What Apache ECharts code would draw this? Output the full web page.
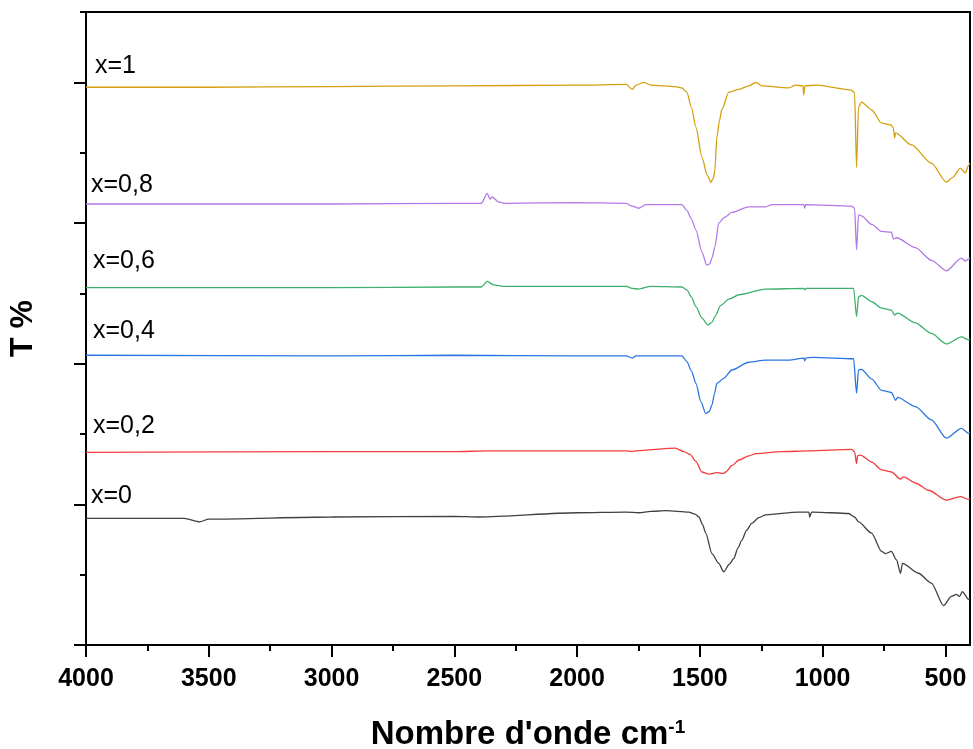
<!DOCTYPE html>
<html>
<head>
<meta charset="utf-8">
<title>Spectres IR</title>
<script src="https://cdn.jsdelivr.net/npm/echarts@6/dist/echarts.min.js"></script>
<style>
  html, body { margin: 0; padding: 0; background: #fff; }
  #chart { width: 973px; height: 749px; }
</style>
</head>
<body>
<div id="chart"></div>
<script>
// axes
var majorTicks = [4000, 3500, 3000, 2500, 2000, 1500, 1000, 500];
var minorTicks = [3750, 3250, 2750, 2250, 1750, 1250, 750];
var yMajorTicks = [0, 20, 40, 60, 80];

var sampleNames = ['x=0', 'x=0,2', 'x=0,4', 'x=0,6', 'x=0,8', 'x=1'];
var lineColors = ['#404040', '#f03c3c', '#2a74e2', '#3cb06c', '#b27ae6', '#d4a010'];

// [nombre d'onde, T (unités décalées)]
var specX0 = [[4000, 18.0], [3600, 18.0], [3537, 17.5], [3500, 17.9], [3000, 18.2], [2500, 18.3], [2400, 18.2],
  [2000, 18.8], [1800, 18.9], [1748, 18.8], [1700, 19.0], [1638, 19.1], [1545, 18.9], [1520, 18.6], [1504, 18.2],
  [1490, 17.2], [1476, 15.9], [1451, 13.0], [1423, 11.6], [1403, 10.4], [1380, 11.5], [1362, 12.3], [1345, 13.8],
  [1329, 14.9], [1310, 16.3], [1289, 17.3], [1260, 18.1], [1232, 18.5], [1098, 18.9], [1056, 18.9], [1053, 18.2],
  [1045, 18.9], [1037, 18.9], [894, 18.7], [870, 18.2], [854, 17.5], [801, 15.9], [760, 13.3], [744, 13.0],
  [720, 13.3], [699, 12.1], [683, 10.2], [675, 11.6], [610, 10.2], [557, 8.8], [508, 5.6], [476, 6.9],
  [455, 7.2], [443, 6.9], [431, 7.6], [406, 6.5], [400, 6.6]];

var specX02 = [[4000, 27.4], [3000, 27.5], [2500, 27.5], [2360, 27.6], [2000, 27.6], [1800, 27.6], [1776, 27.5],
  [1760, 27.6], [1600, 28.0], [1565, 27.5], [1540, 27.1], [1516, 26.1], [1492, 24.6], [1463, 24.3], [1431, 24.5],
  [1403, 24.4], [1395, 24.6], [1370, 25.5], [1341, 26.3], [1300, 26.9], [1272, 27.2], [1166, 27.5], [1056, 27.6],
  [882, 27.8], [870, 27.5], [862, 25.8], [858, 26.9], [846, 27.0], [800, 26.0], [760, 24.9], [720, 24.6],
  [683, 23.6], [671, 23.9], [620, 23.0], [569, 22.0], [496, 20.6], [439, 21.1], [406, 20.7], [400, 20.8]];

var specX04 = [[4000, 41.2], [3000, 41.1], [2500, 41.2], [2000, 41.1], [1800, 41.1], [1776, 40.8], [1760, 41.1],
  [1573, 41.1], [1553, 40.3], [1535, 39.0], [1516, 37.2], [1496, 34.6], [1476, 32.9], [1462, 33.2], [1451, 34.1],
  [1440, 35.8], [1431, 37.2], [1403, 37.9], [1370, 39.1], [1301, 40.2], [1232, 40.5], [1138, 40.5], [1077, 40.8],
  [1073, 40.4], [1069, 40.8], [1040, 40.9], [874, 40.7], [862, 35.8], [854, 39.1], [842, 39.2], [800, 37.8],
  [760, 36.2], [720, 35.9], [703, 34.8], [695, 35.2], [622, 33.9], [557, 32.0], [496, 29.4], [435, 30.8],
  [406, 30.1], [400, 30.2]];

var specX06 = [[4000, 50.8], [3000, 50.8], [2500, 50.9], [2390, 50.9], [2366, 51.7], [2340, 51.2], [2300, 51.0],
  [2000, 51.0], [1800, 51.0], [1776, 50.7], [1750, 50.6], [1700, 51.0], [1573, 50.9], [1553, 50.5], [1535, 49.5],
  [1516, 48.1], [1492, 46.5], [1468, 45.5], [1450, 45.9], [1439, 46.7], [1415, 48.3], [1380, 49.2], [1341, 49.8],
  [1232, 50.6], [1077, 50.7], [1072, 50.5], [1068, 50.7], [874, 50.7], [862, 46.7], [854, 49.5], [842, 49.7],
  [800, 48.8], [760, 47.9], [720, 47.6], [707, 46.9], [695, 47.2], [622, 45.8], [557, 44.3], [496, 42.8],
  [435, 43.8], [406, 43.4], [400, 43.5]];

var specX08 = [[4000, 62.7], [3000, 62.7], [2500, 62.8], [2390, 62.8], [2366, 64.2], [2355, 63.4], [2345, 63.7],
  [2320, 63.0], [2297, 62.8], [2000, 62.9], [1800, 62.8], [1776, 62.4], [1750, 62.1], [1720, 62.6], [1573, 62.6],
  [1553, 61.8], [1535, 60.6], [1516, 59.0], [1492, 55.9], [1472, 54.0], [1460, 54.2], [1451, 55.0], [1439, 56.6],
  [1423, 60.0], [1400, 60.8], [1370, 61.5], [1301, 62.3], [1232, 62.3], [1207, 62.6], [1077, 62.6], [1073, 62.1],
  [1069, 62.6], [882, 62.4], [870, 62.1], [862, 56.2], [854, 61.2], [842, 61.0], [800, 59.8], [760, 58.8],
  [720, 58.7], [712, 57.7], [699, 57.9], [622, 56.5], [557, 54.7], [496, 53.2], [435, 55.0], [419, 54.6],
  [406, 54.9], [400, 55.0]];

var specX1 = [[4000, 79.3], [3500, 79.3], [3000, 79.4], [2500, 79.5], [2000, 79.6], [1800, 79.7], [1776, 79.0],
  [1760, 79.6], [1728, 80.0], [1700, 79.6], [1600, 79.4], [1573, 79.2], [1553, 78.6], [1535, 76.5], [1516, 73.6],
  [1492, 69.4], [1470, 66.8], [1455, 65.8], [1445, 66.4], [1439, 67.5], [1431, 72.2], [1420, 74.6], [1411, 76.1],
  [1382, 78.6], [1341, 79.0], [1301, 79.5], [1272, 80.0], [1248, 79.5], [1138, 79.2], [1110, 79.6], [1080, 79.5],
  [1077, 78.2], [1073, 79.5], [1024, 79.6], [882, 78.9], [870, 78.5], [862, 67.9], [854, 76.5], [842, 77.2],
  [801, 76.1], [760, 74.2], [720, 73.9], [712, 73.5], [707, 72.1], [703, 72.8], [638, 71.1], [557, 68.5],
  [496, 65.8], [470, 66.5], [439, 67.8], [425, 67.3], [419, 67.1], [406, 68.2], [400, 68.5]];

var spectra = [specX0, specX02, specX04, specX06, specX08, specX1];
// position des étiquettes (px)
var labelPos = [[91, 498], [93, 428], [93, 333], [93, 263], [91, 187], [95, 68]];

var FONT = 'Liberation Sans, Arial, sans-serif';
var myChart = echarts.init(document.getElementById('chart'));

var seriesData = [], graphics = [];
for (var i = 0; i < spectra.length; i++) {
  seriesData.push({
    name: sampleNames[i],
    type: 'line',
    showSymbol: false,
    smooth: 0.25,
    smoothMonotone: 'x',
    lineStyle: {width: 1.3, color: lineColors[i]},
    itemStyle: {color: lineColors[i]},
    data: spectra[i]
  });
  graphics.push({
    type: 'text',
    left: labelPos[i][0],
    top: labelPos[i][1] - 14,
    style: {text: sampleNames[i], font: '25px ' + FONT, fill: '#000'}
  });
}

var axisLineStyle = {color: '#000', width: 2};

var option = {
  animation: false,
  backgroundColor: '#fff',
  grid: {left: 86, right: 3, top: 12, bottom: 104, show: true, borderColor: '#000', borderWidth: 2,
    containLabel: false, outerBoundsMode: 'none'},
  xAxis: [{
    type: 'value', min: 400, max: 4000, inverse: true, position: 'bottom',
    name: "{t|Nombre d'onde cm}{s|-1}",
    nameLocation: 'middle', nameGap: 73,
    nameTextStyle: {
      rich: {
        t: {fontSize: 33, fontWeight: 'bold', fontFamily: FONT, color: '#000'},
        s: {fontSize: 19, fontWeight: 'bold', fontFamily: FONT, color: '#000', verticalAlign: 'top'}
      }
    },
    axisLine: {show: true, lineStyle: axisLineStyle},
    axisTick: {show: true, length: 12, customValues: majorTicks, lineStyle: axisLineStyle},
    axisLabel: {show: true, customValues: majorTicks, margin: 22, fontSize: 25, fontWeight: 'bold', fontFamily: FONT, color: '#000',
      formatter: function (v) { return String(v); }},
    splitLine: {show: false}
  }, {
    type: 'value', min: 400, max: 4000, inverse: true, position: 'bottom', offset: 0,
    axisLine: {show: false},
    axisTick: {show: true, length: 6, customValues: minorTicks, lineStyle: axisLineStyle},
    axisLabel: {show: false},
    splitLine: {show: false}
  }],
  yAxis: [{
    type: 'value', min: 0, max: 90, interval: 10, position: 'left',
    name: 'T %', nameLocation: 'middle', nameGap: 47,
    nameTextStyle: {fontSize: 32, fontWeight: 'bold', fontFamily: FONT, color: '#000'},
    axisLine: {show: true, lineStyle: axisLineStyle},
    axisTick: {show: true, length: 6, lineStyle: axisLineStyle},
    axisLabel: {show: false},
    splitLine: {show: false}
  }, {
    type: 'value', min: 0, max: 90, position: 'left', offset: 0,
    axisLine: {show: false},
    axisTick: {show: true, length: 12, customValues: yMajorTicks, lineStyle: axisLineStyle},
    axisLabel: {show: false},
    splitLine: {show: false}
  }],
  graphic: graphics,
  series: seriesData
};

if (option && typeof option === 'object') {
  myChart.setOption(option, true);
}
</script>
</body>
</html>
